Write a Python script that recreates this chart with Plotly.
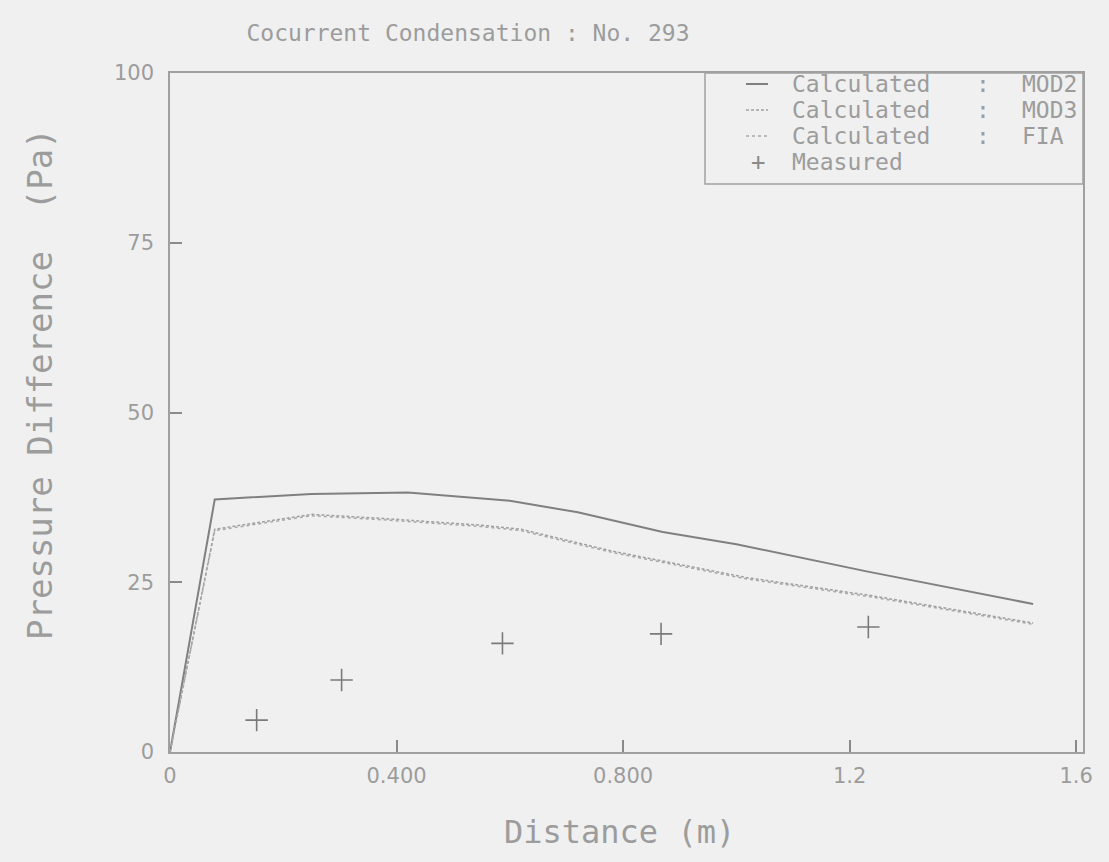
import plotly.graph_objects as go

# ---- data ----
mod2_x = [0, 0.079, 0.25, 0.42, 0.6, 0.72, 0.87, 1.0, 1.23, 1.524]
mod2_y = [0, 37.2, 38.0, 38.2, 37.0, 35.3, 32.4, 30.6, 26.6, 21.8]

mod3_x = [0, 0.079, 0.25, 0.375, 0.55, 0.62, 0.78, 1.017, 1.233, 1.524]
mod3_y = [0, 32.8, 35.0, 34.4, 33.4, 32.8, 29.6, 25.7, 23.1, 19.0]

fia_x = [0, 0.079, 0.25, 0.375, 0.55, 0.62, 0.78, 1.017, 1.233, 1.524]
fia_y = [0, 32.6, 34.8, 34.2, 33.2, 32.6, 29.4, 25.5, 22.9, 18.8]

meas_x = [0.153, 0.303, 0.587, 0.867, 1.233]
meas_y = [4.7, 10.6, 16.0, 17.4, 18.4]

x_tickvals = [0, 0.4, 0.8, 1.2, 1.6]
x_ticktext = ["0", "0.400", "0.800", "1.2", "1.6"]
y_tickvals = [0, 25, 50, 75, 100]
y_ticktext = ["0", "25", "50", "75", "100"]

legend_names = ["Calculated : MOD2", "Calculated : MOD3", "Calculated : FIA", "Measured"]
legend_models = ["MOD2", "MOD3", "FIA"]

BG = "#f0f0f0"
TXT = "#9c9c9c"
LINE = "#808080"
MONO = "DejaVu Sans Mono"

fig = go.Figure()
fig.add_trace(go.Scatter(x=mod2_x, y=mod2_y, mode="lines", name=legend_names[0],
                         line=dict(color=LINE, width=2)))
fig.add_trace(go.Scatter(x=mod3_x, y=mod3_y, mode="lines", name=legend_names[1],
                         line=dict(color="#a0a0a0", width=1.5, dash="3px,2px")))
fig.add_trace(go.Scatter(x=fia_x, y=fia_y, mode="lines", name=legend_names[2],
                         line=dict(color="#a8a8a8", width=1.5, dash="dot")))
fig.add_trace(go.Scatter(x=meas_x, y=meas_y, mode="markers", name=legend_names[3],
                         marker=dict(symbol="cross-thin", size=16,
                                     line=dict(color="#7a7a7a", width=1.6))))

# ---- custom legend (box, samples, labels) in paper coordinates ----
L, R, T, B = 170, 1083, 73, 752
def px(xp):
    return (xp - L) / (R - L)
def py(yp):
    return (B - yp) / (B - T)

rows = [84, 110, 136, 162]
shapes = [
    dict(type="rect", xref="paper", yref="paper", x0=px(705), x1=px(1083), y0=py(184), y1=py(73),
         line=dict(color="#a0a0a0", width=1.5), fillcolor=BG, layer="above"),
]
samples = [dict(color=LINE, width=2, dash="solid"),
           dict(color="#a0a0a0", width=1.5, dash="3px,2px"),
           dict(color="#a8a8a8", width=1.5, dash="dot")]
for r, s in zip(rows[:3], samples):
    shapes.append(dict(type="line", xref="paper", yref="paper", x0=px(746), x1=px(768),
                       y0=py(r), y1=py(r), line=s, layer="above"))

LFONT = dict(family=MONO, size=23, color=TXT)
annotations = []
for r, m in zip(rows[:3], legend_models):
    annotations.append(dict(xref="paper", yref="paper", x=px(790), y=py(r), text="Calculated",
                            showarrow=False, xanchor="left", yanchor="middle", font=LFONT))
    annotations.append(dict(xref="paper", yref="paper", x=px(983), y=py(r), text=":",
                            showarrow=False, xanchor="center", yanchor="middle", font=LFONT))
    annotations.append(dict(xref="paper", yref="paper", x=px(1020), y=py(r), text=m,
                            showarrow=False, xanchor="left", yanchor="middle", font=LFONT))
annotations.append(dict(xref="paper", yref="paper", x=px(790), y=py(rows[3]), text=legend_names[3],
                        showarrow=False, xanchor="left", yanchor="middle", font=LFONT))
annotations.append(dict(xref="paper", yref="paper", x=px(758), y=py(rows[3]), text="+",
                        showarrow=False, xanchor="center", yanchor="middle",
                        font=dict(family=MONO, size=24, color="#8a8a8a")))

# axis titles
annotations.append(dict(xref="paper", yref="paper", x=px(619), y=py(832), text="Distance (m)",
                        showarrow=False, xanchor="center", yanchor="middle",
                        font=dict(family=MONO, size=32, color=TXT)))
annotations.append(dict(xref="paper", yref="paper", x=px(40), y=py(384),
                        text="Pressure Difference  (Pa)", textangle=-90,
                        showarrow=False, xanchor="center", yanchor="middle",
                        font=dict(family=MONO, size=34, color=TXT)))

fig.update_layout(
    width=1109, height=862,
    margin=dict(l=L, r=1109 - R, t=T, b=862 - B),
    paper_bgcolor=BG, plot_bgcolor=BG,
    showlegend=False,
    title=dict(text="Cocurrent Condensation : No. 293", x=468 / 1109, xref="container",
               xanchor="center", y=1 - 33 / 862, yref="container", yanchor="middle",
               font=dict(family=MONO, size=23, color=TXT)),
    shapes=shapes, annotations=annotations,
)
fig.update_xaxes(range=[0, 1.612], tickvals=x_tickvals, ticktext=x_ticktext,
                 ticks="inside", ticklen=12, tickwidth=1.5, tickcolor="#8a8a8a",
                 showline=True, linecolor="#a0a0a0", linewidth=1.5, mirror=True,
                 showgrid=False, zeroline=False, ticklabelstandoff=4,
                 tickfont=dict(family="DejaVu Sans", size=21, color=TXT))
fig.update_yaxes(range=[0, 100], tickvals=y_tickvals, ticktext=y_ticktext,
                 ticks="inside", ticklen=12, tickwidth=1.5, tickcolor="#8a8a8a",
                 showline=True, linecolor="#a0a0a0", linewidth=1.5, mirror=True,
                 showgrid=False, zeroline=False, ticklabelstandoff=10,
                 tickfont=dict(family="DejaVu Sans", size=21, color=TXT))

fig.write_html("out.html")
